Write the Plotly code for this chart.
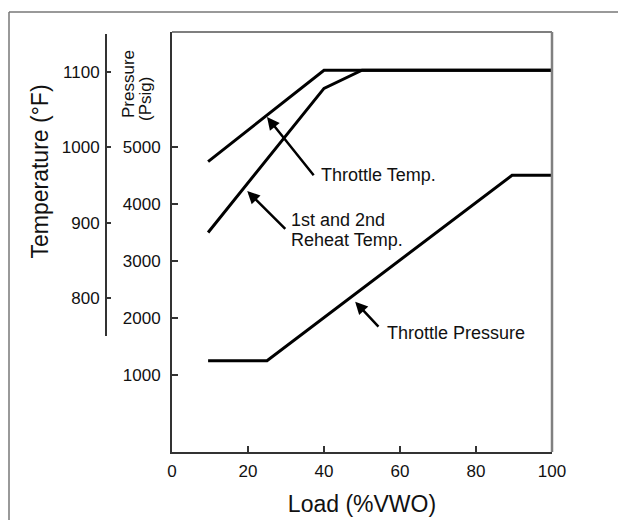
import plotly.graph_objects as go

# ---- data ----
load_throttle_temp = [9.5, 40, 100]
throttle_temp_F = [981, 1102, 1102]

load_reheat = [9.5, 40, 50, 100]
reheat_temp_F = [887, 1078, 1102, 1102]

load_pressure = [9.5, 25, 89.5, 100]
throttle_pressure_psig = [1250, 1250, 4500, 4500]

x_ticks = [0, 20, 40, 60, 80, 100]
pressure_ticks = [1000, 2000, 3000, 4000, 5000]
temp_ticks = [800, 900, 1000, 1100]

FONT = "Liberation Sans, Arial, sans-serif"
INK = "#111111"

# the page body adds an 8px offset; positions below are given in window pixels
OFF = 8
W, H = 626, 520
L, R, T, B = 0, 82, 24, 76
PW, PH = W - L - R, H - T - B


def px(xs):
    return (xs - OFF - L) / PW


def py(ys):
    return (H - B - (ys - OFF)) / PH


fig = go.Figure()
line = dict(color="black", width=3)
fig.add_trace(go.Scatter(x=load_throttle_temp, y=throttle_temp_F, mode="lines",
                         line=line, yaxis="y2", name="Throttle Temp."))
fig.add_trace(go.Scatter(x=load_reheat, y=reheat_temp_F, mode="lines",
                         line=line, yaxis="y2", name="1st and 2nd Reheat Temp."))
fig.add_trace(go.Scatter(x=load_pressure, y=throttle_pressure_psig, mode="lines",
                         line=line, yaxis="y", name="Throttle Pressure"))

tickfont = dict(family=FONT, size=17, color=INK)
x_dom0 = px(172)

fig.update_layout(
    width=W, height=H,
    margin=dict(l=L, r=R, t=T, b=B, pad=0),
    paper_bgcolor="white", plot_bgcolor="rgba(0,0,0,0)",
    showlegend=False,
    font=dict(family=FONT, color=INK),
    xaxis=dict(
        domain=[x_dom0, 1], range=[0, 100], tickvals=x_ticks,
        ticks="inside", ticklen=6, tickwidth=2, tickcolor="#333",
        showline=True, linecolor="#333", linewidth=2,
        showgrid=False, zeroline=False, tickfont=tickfont, anchor="y",
        automargin=False, ticklabelstandoff=3,
        title=dict(text="Load (%VWO)", font=dict(family=FONT, size=23, color=INK), standoff=15),
    ),
    yaxis=dict(
        domain=[0, 1], range=[-349, 7009], tickvals=pressure_ticks,
        ticks="inside", ticklen=6, tickwidth=2, tickcolor="#333",
        showline=True, linecolor="#333", linewidth=2,
        showgrid=False, zeroline=False, tickfont=tickfont, anchor="x",
        automargin=False, ticklabelstandoff=6,
    ),
    yaxis2=dict(
        domain=[py(336), py(34)], range=[750, 1150], tickvals=temp_ticks,
        ticks="inside", ticklen=4, tickwidth=2, tickcolor="#333",
        showline=True, linecolor="#333", linewidth=2,
        showgrid=False, zeroline=False, tickfont=tickfont,
        anchor="free", position=px(106), side="left",
        automargin=False, ticklabelstandoff=2,
    ),
)

arrow = dict(text="", showarrow=True, arrowhead=2, arrowsize=1, arrowwidth=2.5,
             arrowcolor="black")
lab = dict(showarrow=False, xanchor="left", yanchor="middle",
           font=dict(family=FONT, size=18, color=INK))

annotations = [
    # Throttle Temp.
    dict(x=25, y=1040, xref="x", yref="y2", ax=37.6, ay=961, axref="x", ayref="y2", **arrow),
    dict(x=38.7, y=963, xref="x", yref="y2", text="Throttle Temp.", **lab),
    # Reheat
    dict(x=19.8, y=942, xref="x", yref="y2", ax=30.2, ay=890, axref="x", ayref="y2", **arrow),
    dict(x=30.8, y=904, xref="x", yref="y2", text="1st and 2nd", **lab),
    dict(x=30.8, y=877, xref="x", yref="y2", text="Reheat Temp.", **lab),
    # Throttle Pressure
    dict(x=48.2, y=2284, xref="x", yref="y", ax=54.7, ay=1823, axref="x", ayref="y", **arrow),
    dict(x=56.0, y=1741, xref="x", yref="y", text="Throttle Pressure", **lab),
    # axis labels
    dict(x=px(39), y=py(171.5), xref="paper", yref="paper", text="Temperature (°F)",
         textangle=-90, showarrow=False, xanchor="center", yanchor="middle",
         font=dict(family=FONT, size=23, color=INK)),
    dict(x=px(128.3), y=py(83.7), xref="paper", yref="paper", text="Pressure",
         textangle=-90, showarrow=False, xanchor="center", yanchor="middle",
         font=dict(family=FONT, size=17, color=INK)),
    dict(x=px(145.3), y=py(98.7), xref="paper", yref="paper", text="(Psig)",
         textangle=-90, showarrow=False, xanchor="center", yanchor="middle",
         font=dict(family=FONT, size=17, color=INK)),
]
fig.update_layout(annotations=annotations)

# top and right edges of the plot box (lighter than the left/bottom axes)
fig.add_shape(type="line", xref="paper", yref="paper", x0=x_dom0, x1=1, y0=1, y1=1,
              line=dict(color="#555555", width=1.5))
fig.add_shape(type="line", xref="paper", yref="paper", x0=1, x1=1, y0=0, y1=1,
              line=dict(color="#808080", width=2.5))

# outer frame (top and left edges of the figure border)
frame = dict(type="line", xref="paper", yref="paper", line=dict(color="#777777", width=1.5))
fig.add_shape(x0=px(9), x1=px(660), y0=py(12), y1=py(12), **frame)
fig.add_shape(x0=px(9), x1=px(9), y0=py(12), y1=py(560), **frame)

fig.write_html("out.html")
